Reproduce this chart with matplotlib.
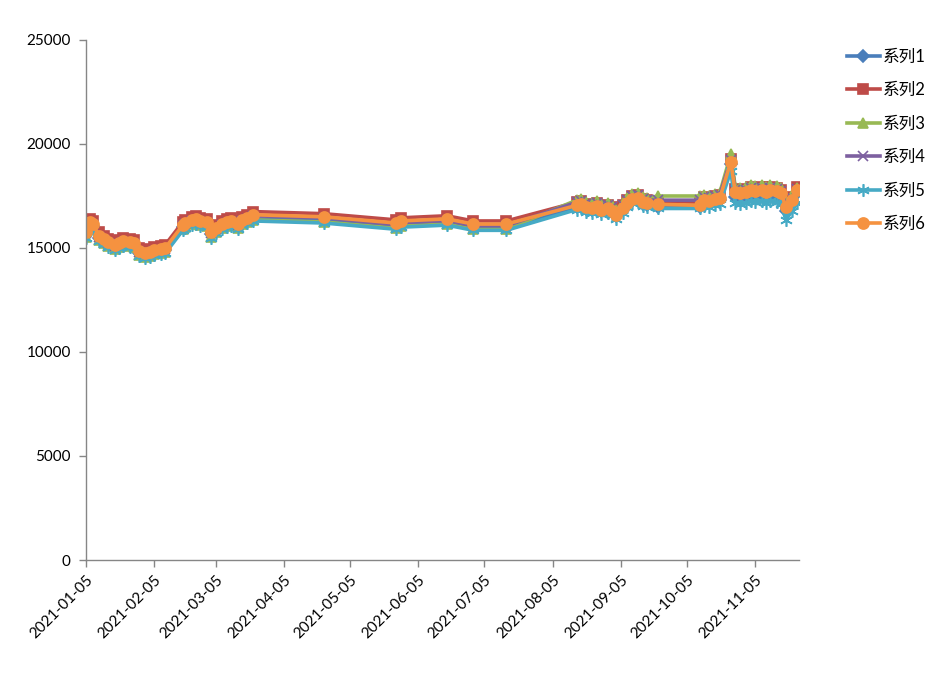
import pandas as pd
import matplotlib
matplotlib.use('Agg')
import matplotlib.pyplot as plt
import matplotlib.dates as mdates

plt.rcParams['font.family'] = ['Lato', 'Noto Sans CJK SC', 'DejaVu Sans']

dates = [
    '2021-01-05', '2021-01-06', '2021-01-07', '2021-01-08', '2021-01-11', '2021-01-13', '2021-01-15',
    '2021-01-18', '2021-01-20', '2021-01-22', '2021-01-25', '2021-01-27', '2021-01-29',
    '2021-02-01', '2021-02-03', '2021-02-05', '2021-02-08', '2021-02-10', '2021-02-18', '2021-02-19',
    '2021-02-22', '2021-02-24', '2021-02-26',
    '2021-03-01', '2021-03-03', '2021-03-05', '2021-03-08', '2021-03-10', '2021-03-12', '2021-03-15',
    '2021-03-17', '2021-03-19', '2021-03-22',
    '2021-04-23',
    '2021-05-26', '2021-05-28',
    '2021-06-18', '2021-06-30',
    '2021-07-15',
    '2021-08-16', '2021-08-18', '2021-08-20', '2021-08-23', '2021-08-25', '2021-08-27', '2021-08-30',
    '2021-09-01', '2021-09-03', '2021-09-06', '2021-09-08', '2021-09-10', '2021-09-13', '2021-09-15',
    '2021-09-17', '2021-09-22',
    '2021-10-11', '2021-10-13', '2021-10-15', '2021-10-18', '2021-10-20', '2021-10-25', '2021-10-27',
    '2021-10-29',
    '2021-11-01', '2021-11-03', '2021-11-05', '2021-11-08', '2021-11-10', '2021-11-12', '2021-11-15',
    '2021-11-17', '2021-11-19', '2021-11-22', '2021-11-24',
]

s1 = [15650, 16000, 16150, 16050, 15500, 15350, 15200, 15050, 15150, 15250, 15200, 15150, 14750,
      14650, 14700, 14800, 14850, 14900, 16000, 16100, 16250, 16300, 16200,
      16150, 15650, 15850, 16050, 16150, 16200, 16050, 16250, 16350, 16400,
      16350,
      16050, 16150,
      16250, 16000,
      16000,
      16970, 17020, 16870, 16820, 16920, 16770, 16820,
      16720, 16520, 16820, 17070, 17270, 17320, 17120, 17070, 16950,
      16950, 17200, 17150, 17250, 17300, 19050, 17450, 17400,
      17450, 17500, 17450, 17500, 17400, 17500, 17450, 17350, 16800, 17100, 17650]

s2 = [15900, 16250, 16400, 16300, 15750, 15600, 15450, 15300, 15400, 15500, 15450, 15400, 15000,
      14900, 14950, 15050, 15100, 15150, 16250, 16350, 16500, 16550, 16450,
      16400, 15900, 16100, 16300, 16400, 16450, 16300, 16500, 16600, 16750,
      16650,
      16350, 16450,
      16550, 16300,
      16300,
      17200, 17250, 17100, 17050, 17150, 17000, 17050,
      16950, 16750, 17050, 17300, 17500, 17550, 17350, 17300, 17250,
      17200, 17450, 17400, 17500, 17550, 19300, 17850, 17800,
      17850, 17950, 17900, 17950, 17850, 17950, 17900, 17800, 17100, 17450, 17950]

s3 = [15550, 15900, 16050, 15950, 15400, 15250, 15100, 14950, 15050, 15150, 15100, 15050, 14650,
      14550, 14600, 14700, 14750, 14800, 15900, 16000, 16150, 16200, 16100,
      16050, 15550, 15750, 15950, 16050, 16100, 15950, 16150, 16250, 16350,
      16250,
      15950, 16050,
      16150, 15900,
      15900,
      17300, 17350, 17200, 17150, 17250, 17100, 17150,
      17050, 16850, 17150, 17400, 17600, 17650, 17450, 17400, 17500,
      17500, 17550, 17500, 17600, 17650, 19500, 17950, 17900,
      17950, 18050, 18000, 18050, 17950, 18050, 18000, 17900, 17200, 17550, 17900]

s4 = [15700, 16050, 16200, 16100, 15550, 15400, 15250, 15100, 15200, 15300, 15250, 15200, 14800,
      14700, 14750, 14850, 14900, 14950, 16050, 16150, 16300, 16350, 16250,
      16200, 15700, 15900, 16100, 16200, 16250, 16100, 16300, 16400, 16550,
      16450,
      16120, 16220,
      16320, 16070,
      16070,
      17200, 17250, 17100, 17050, 17150, 17000, 17050,
      16950, 16700, 17050, 17300, 17500, 17550, 17350, 17300, 17300,
      17300, 17450, 17400, 17500, 17550, 19250, 17800, 17750,
      17800, 17900, 17850, 17900, 17800, 17900, 17850, 17750, 17050, 17400, 17850]

s5 = [15500, 15850, 16000, 15900, 15350, 15200, 15050, 14900, 15000, 15100, 15050, 15000, 14600,
      14500, 14550, 14650, 14700, 14750, 15850, 15950, 16100, 16150, 16050,
      16000, 15500, 15700, 15900, 16000, 16050, 15900, 16100, 16200, 16300,
      16200,
      15900, 16000,
      16100, 15850,
      15850,
      16850, 16900, 16750, 16700, 16800, 16650, 16700,
      16600, 16400, 16700, 16950, 17150, 17200, 17000, 16950, 16900,
      16900, 17000, 16950, 17050, 17100, 18700, 17150, 17100,
      17150, 17250, 17200, 17250, 17150, 17250, 17200, 17100, 16350, 16800, 17150]

s6 = [15750, 16100, 16250, 16150, 15600, 15450, 15300, 15150, 15250, 15350, 15300, 15250, 14850,
      14750, 14800, 14900, 14950, 15000, 16100, 16200, 16350, 16400, 16300,
      16250, 15750, 15950, 16150, 16250, 16300, 16150, 16350, 16450, 16600,
      16500,
      16200, 16300,
      16400, 16150,
      16150,
      17050, 17100, 16950, 16900, 17000, 16850, 16900,
      16800, 16600, 16900, 17150, 17350, 17400, 17200, 17150, 17100,
      17050, 17300, 17250, 17350, 17400, 19150, 17700, 17650,
      17700, 17800, 17750, 17800, 17700, 17800, 17750, 17650, 16950, 17300, 17800]

names = ['系列1', '系列2', '系列3', '系列4', '系列5', '系列6']
colors = ['#4A7EBB', '#BE4B48', '#98B954', '#7D60A0', '#46AAC5', '#F59240']
markers = ['D', 's', '^', 'x', (6, 2, 0), 'o']
sizes = [6, 7, 7, 7, 9, 8]

x = pd.to_datetime(dates)

fig = plt.figure(figsize=(9.44, 6.8), dpi=100)
ax = fig.add_axes([86 / 944, 1 - 560 / 680, (799 - 86) / 944, (560 - 40) / 680])

for vals, name, c, m, ms in zip([s1, s2, s3, s4, s5, s6], names, colors, markers, sizes):
    ax.plot(x, vals, color=c, lw=2.6, marker=m, markersize=ms,
            markerfacecolor=c, markeredgecolor=c, markeredgewidth=1.2, label=name)

ax.set_ylim(0, 25000)
ax.set_yticks(range(0, 25001, 5000))
ax.set_xlim(pd.Timestamp('2021-01-05'), pd.Timestamp('2021-11-25'))
ticks = pd.date_range('2021-01-01', '2021-11-01', freq='MS') + pd.Timedelta(days=4)
ax.set_xticks(ticks)
ax.xaxis.set_major_formatter(mdates.DateFormatter('%Y-%m-%d'))
plt.setp(ax.get_xticklabels(), rotation=45, ha='right', rotation_mode='anchor')

for side in ['top', 'right']:
    ax.spines[side].set_visible(False)
for side in ['left', 'bottom']:
    ax.spines[side].set_color('#868686')
    ax.spines[side].set_linewidth(1)
ax.tick_params(axis='both', colors='#868686', labelcolor='black', labelsize=11, length=5, width=1)
ax.tick_params(axis='y', pad=6)
ax.tick_params(axis='x', pad=4)

fig.legend(loc='upper left', bbox_to_anchor=(840 / 944, 1 - 42 / 680), frameon=False,
           fontsize=12, labelspacing=1.05, handlelength=2.0, handletextpad=0.15, borderaxespad=0)

fig.savefig('out.png', dpi=100)
